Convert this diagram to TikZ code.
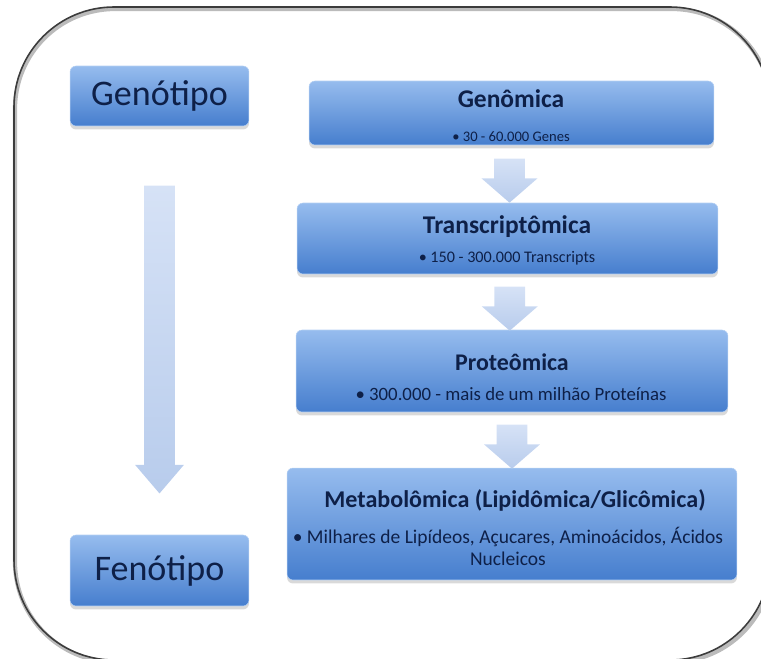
\documentclass[tikz,border=0pt]{standalone}
\usepackage{fontspec}
\setmainfont{Carlito}
\usepackage{tikz}
\usetikzlibrary{shapes.arrows, positioning, calc, shadows}
\definecolor{boxtop}{RGB}{150,188,238}
\definecolor{boxbottom}{RGB}{70,126,206}
\definecolor{arrowtop}{RGB}{214,226,246}
\definecolor{arrowbottom}{RGB}{184,204,236}
\definecolor{navy}{RGB}{14,32,72}
\definecolor{framegray}{RGB}{60,60,60}

\begin{document}
\begin{tikzpicture}[
    x=0.02cm, y=-0.02cm,
    box/.style={rectangle, rounded corners=0.12cm, top color=boxtop, bottom color=boxbottom, draw=boxtop!70!white, line width=0.3pt, inner sep=0pt, drop shadow={opacity=0.3, shadow xshift=0pt, shadow yshift=-0.07cm}},
    side/.style={box, minimum width=3.58cm, text=navy, font=\fontsize{20.5}{22}\selectfont},
    ttl/.style={text=navy, inner sep=0pt, font=\fontsize{14.5}{16}\selectfont\bfseries},
    sub/.style={text=navy, inner sep=0pt, align=center, font=\fontsize{9.2}{11}\selectfont},
    flow/.style={single arrow, shape border rotate=270, top color=arrowtop, bottom color=arrowbottom, draw=none, inner sep=0.3cm, minimum height=0.86cm, minimum width=1.1cm, single arrow head extend=0.25cm, single arrow tip angle=98}
]
\useasboundingbox (0,0) rectangle (761,659);
\clip (0,0) rectangle (761,659);

% Frame
\draw[framegray!35, line width=2.4pt, rounded corners=2cm] (15,9) rectangle (772,662);
\draw[framegray, line width=0.9pt, rounded corners=2cm] (14,7) rectangle (770,660);

% Left column: Genotype -> Phenotype
\node[side, minimum height=1.2cm] (geno) at (159.5,96) {Genótipo};
\node[side, minimum height=1.42cm] (feno) at (159.5,570.5) {Fenótipo};
\node[flow, minimum height=6.16cm, minimum width=0.96cm, single arrow head extend=0.18cm, single arrow tip angle=81] (down) at ($(geno.south)!0.5!(feno.north)$) {};

% Right column: omics levels
\node[box, minimum width=8.1cm, minimum height=1.28cm] (gen) at (511.5,113) {};
\node[ttl] (genT) at (511,99) {Genômica};
\node[sub, font=\fontsize{8.3}{10}\selectfont] (genS) at (511,137) {• 30 - 60.000 Genes};

\node[box, minimum width=8.42cm, minimum height=1.42cm] (tra) at (507.5,238.5) {};
\node[ttl] (traT) at (507,227) {Transcriptômica};
\node[sub] (traS) at (507,258) {• 150 - 300.000 Transcripts};

\node[box, minimum width=8.64cm, minimum height=1.64cm] (pro) at (512,371) {};
\node[ttl, font=\fontsize{13.6}{15}\selectfont\bfseries] (proT) at (512,362) {Proteômica};
\node[sub, font=\fontsize{10.7}{12}\selectfont] (proS) at (511,394) {• 300.000 - mais de um milhão Proteínas};

\node[box, minimum width=9cm, minimum height=2.24cm] (met) at (512,524) {};
\node[ttl, font=\fontsize{13.7}{15}\selectfont\bfseries] (metT) at (515,500) {Metabolômica (Lipidômica/Glicômica)};
\node[sub, font=\fontsize{11.1}{12.5}\selectfont] (metS) at (508,546) {• Milhares de Lipídeos, Açucares, Aminoácidos, Ácidos\\Nucleicos};

% Arrows between levels
\node[flow] (a1) at ($(gen.south)!0.5!(tra.north)$) {};
\node[flow] (a2) at ($(tra.south)!0.5!(pro.north)$) {};
\node[flow] (a3) at ($(pro.south)!0.5!(met.north)$) {};

\end{tikzpicture}
\end{document}
